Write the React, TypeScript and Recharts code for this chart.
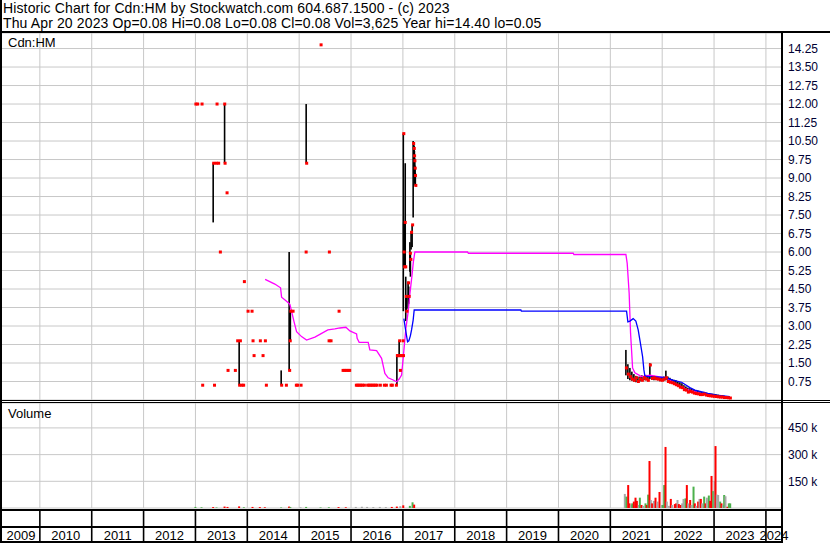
import React from 'react';
import { ComposedChart, Bar, Line, Scatter, XAxis, YAxis, CartesianGrid } from 'recharts';

const TITLE = 'Historic Chart for Cdn:HM by Stockwatch.com 604.687.1500 - (c) 2023';
const SUBTITLE = 'Thu Apr 20 2023 Op=0.08 Hi=0.08 Lo=0.08 Cl=0.08 Vol=3,625 Year hi=14.40 lo=0.05';
const SYMBOL = 'Cdn:HM';
const VOLUME_LABEL = 'Volume';

const X_DOMAIN: [number, number] = [2009.27, 2024.31];
const YEAR_LINES = [2010, 2011, 2012, 2013, 2014, 2015, 2016, 2017, 2018, 2019, 2020, 2021, 2022, 2023, 2024];
const YEAR_LABEL_POS = [2009.635, 2010.5, 2011.5, 2012.5, 2013.5, 2014.5, 2015.5, 2016.5, 2017.5, 2018.5, 2019.5, 2020.5, 2021.5, 2022.5, 2023.5, 2024.155];
const PRICE_TICKS = [0.75, 1.5, 2.25, 3, 3.75, 4.5, 5.25, 6, 6.75, 7.5, 8.25, 9, 9.75, 10.5, 11.25, 12, 12.75, 13.5, 14.25];
const PRICE_DOMAIN: [number, number] = [0, 14.88];
const VOLUME_TICKS = [150, 300, 450]; // thousands
const VOLUME_DOMAIN: [number, number] = [0, 590];

// [decimal year, high, low, close]
const OHLC: [number, number, number, number][] = [
  [2012.999, 12, 12, 12], [2013.033, 12, 12, 12], [2013.118, 12, 12, 12], [2013.130, 0.6, 0.6, 0.6],
  [2013.342, 9.6, 7.2, 9.6], [2013.358, 0.6, 0.6, 0.6], [2013.394, 9.6, 9.6, 9.6], [2013.407, 12, 12, 12],
  [2013.438, 9.6, 9.6, 9.6], [2013.471, 6.0, 6.0, 6.0], [2013.555, 12, 12, 12], [2013.562, 12, 9.6, 9.6],
  [2013.600, 8.4, 8.4, 8.4], [2013.619, 1.2, 1.2, 1.2], [2013.760, 1.2, 1.2, 1.2], [2013.805, 2.4, 2.4, 2.4],
  [2013.843, 2.4, 0.6, 0.6], [2013.857, 2.4, 2.4, 2.4], [2013.886, 0.6, 0.6, 0.6], [2013.920, 0.6, 0.6, 0.6],
  [2013.934, 4.8, 4.8, 4.8], [2014.005, 3.6, 3.6, 3.6], [2014.082, 3.6, 3.6, 3.6], [2014.101, 2.4, 2.4, 2.4],
  [2014.121, 1.8, 1.8, 1.8], [2014.242, 2.4, 2.4, 2.4], [2014.294, 1.8, 1.8, 1.8], [2014.339, 2.4, 2.4, 2.4],
  [2014.358, 0.6, 0.6, 0.6], [2014.653, 1.2, 0.6, 0.6], [2014.744, 0.6, 0.6, 0.6], [2014.807, 6.0, 1.2, 1.2],
  [2014.818, 3.6, 2.4, 2.4], [2014.830, 3.6, 2.4, 3.6], [2014.873, 3.6, 3.6, 3.6], [2014.936, 0.6, 0.6, 0.6],
  [2014.961, 0.6, 0.6, 0.6], [2015.027, 0.6, 0.6, 0.6], [2015.125, 6.0, 6.0, 6.0], [2015.135, 12, 9.6, 9.6],
  [2015.413, 14.4, 14.4, 14.4], [2015.567, 2.4, 2.4, 2.4], [2015.573, 6.0, 6.0, 6.0], [2015.605, 2.4, 2.4, 2.4],
  [2015.760, 3.6, 3.6, 3.6], [2015.837, 1.2, 1.2, 1.2], [2015.870, 1.2, 1.2, 1.2], [2015.900, 1.2, 1.2, 1.2],
  [2015.935, 1.2, 1.2, 1.2], [2015.964, 1.2, 1.2, 1.2], [2016.093, 0.6, 0.6, 0.6], [2016.120, 0.6, 0.6, 0.6],
  [2016.150, 0.6, 0.6, 0.6], [2016.180, 0.6, 0.6, 0.6], [2016.210, 0.6, 0.6, 0.6], [2016.248, 0.6, 0.6, 0.6],
  [2016.311, 0.6, 0.6, 0.6], [2016.340, 0.6, 0.6, 0.6], [2016.370, 0.6, 0.6, 0.6], [2016.400, 0.6, 0.6, 0.6],
  [2016.430, 0.6, 0.6, 0.6], [2016.460, 0.6, 0.6, 0.6], [2016.493, 0.6, 0.6, 0.6], [2016.556, 0.6, 0.6, 0.6],
  [2016.633, 0.6, 0.6, 0.6], [2016.672, 0.6, 0.6, 0.6], [2016.762, 0.6, 0.6, 0.6], [2016.787, 0.6, 0.6, 0.6],
  [2016.865, 0.6, 0.6, 0.6], [2016.884, 1.8, 0.6, 1.8], [2016.897, 1.8, 1.8, 1.8], [2016.922, 1.8, 1.8, 1.8],
  [2016.928, 2.4, 1.8, 2.4], [2016.942, 1.2, 1.2, 1.2], [2016.951, 1.8, 1.8, 1.8], [2016.980, 1.8, 1.8, 1.8],
  [2016.994, 2.4, 2.4, 2.4], [2017.002, 1.8, 1.8, 1.8], [2017.008, 10.8, 3.6, 10.8], [2017.015, 7.2, 5.4, 6.0],
  [2017.025, 7.0, 5.4, 5.4], [2017.035, 7.2, 5.5, 7.2], [2017.045, 9.6, 5.4, 5.4], [2017.055, 5.0, 3.2, 4.2],
  [2017.068, 4.2, 3.6, 3.6], [2017.100, 4.8, 3.7, 4.75], [2017.112, 4.6, 3.9, 4.2], [2017.135, 6.4, 5.2, 5.95],
  [2017.145, 5.9, 5.0, 5.7], [2017.158, 6.8, 6.1, 6.8], [2017.178, 7.1, 6.2, 7.1], [2017.198, 10.5, 7.4, 10.4],
  [2017.210, 10.4, 9.6, 10.2], [2017.216, 10.3, 9.2, 9.9], [2017.222, 10.1, 9.0, 9.7], [2017.228, 9.8, 8.8, 9.4],
  [2017.234, 9.5, 8.7, 9.1], [2017.240, 9.2, 8.7, 8.7],
  [2021.300, 2.03, 1.0, 1.3], [2021.338, 1.45, 0.85, 1.05], [2021.377, 1.3, 0.8, 0.95], [2021.415, 1.15, 0.78, 0.85],
  [2021.454, 1.05, 0.75, 0.8], [2021.492, 0.98, 0.72, 0.9], [2021.531, 0.95, 0.72, 0.75], [2021.570, 0.95, 0.75, 0.85],
  [2021.608, 1.0, 0.78, 0.8], [2021.647, 0.97, 0.8, 0.9], [2021.685, 1.02, 0.8, 0.85], [2021.724, 0.96, 0.76, 0.8],
  [2021.762, 1.49, 0.85, 1.42], [2021.801, 1.0, 0.82, 0.88], [2021.840, 0.98, 0.8, 0.9], [2021.878, 0.95, 0.82, 0.86],
  [2021.917, 0.93, 0.8, 0.85], [2021.955, 0.9, 0.76, 0.82], [2021.994, 0.92, 0.78, 0.8], [2022.032, 0.95, 0.78, 0.85],
  [2022.071, 1.19, 0.8, 0.9], [2022.110, 0.95, 0.7, 0.75], [2022.148, 0.9, 0.7, 0.72], [2022.187, 0.85, 0.66, 0.7],
  [2022.225, 0.82, 0.62, 0.66], [2022.264, 0.8, 0.6, 0.62], [2022.302, 0.75, 0.55, 0.58], [2022.341, 0.72, 0.5, 0.52],
  [2022.380, 0.68, 0.45, 0.5], [2022.418, 0.6, 0.4, 0.42], [2022.457, 0.55, 0.38, 0.4], [2022.495, 0.5, 0.3, 0.32],
  [2022.534, 0.48, 0.3, 0.35], [2022.572, 0.45, 0.3, 0.32], [2022.611, 0.42, 0.25, 0.28], [2022.650, 0.4, 0.24, 0.26],
  [2022.688, 0.38, 0.22, 0.25], [2022.727, 0.35, 0.2, 0.22], [2022.765, 0.33, 0.2, 0.22], [2022.804, 0.33, 0.2, 0.24],
  [2022.842, 0.3, 0.18, 0.2], [2022.881, 0.28, 0.16, 0.18], [2022.919, 0.27, 0.15, 0.17], [2022.958, 0.26, 0.14, 0.16],
  [2022.996, 0.25, 0.13, 0.15], [2023.035, 0.24, 0.12, 0.14], [2023.074, 0.22, 0.12, 0.13], [2023.112, 0.2, 0.1, 0.12],
  [2023.151, 0.2, 0.1, 0.12], [2023.189, 0.18, 0.09, 0.1], [2023.228, 0.16, 0.08, 0.1], [2023.266, 0.15, 0.07, 0.09],
  [2023.305, 0.08, 0.08, 0.08],
];

// fast moving average (magenta)
const MA_FAST: [number, number][] = [
  [2014.344, 4.89], [2014.531, 4.7], [2014.641, 4.55], [2014.661, 4.17], [2014.757, 4.0], [2014.821, 3.88],
  [2014.853, 3.6], [2014.898, 3.2], [2014.950, 2.77], [2015.046, 2.57], [2015.143, 2.43], [2015.303, 2.55],
  [2015.399, 2.66], [2015.553, 2.84], [2015.688, 2.88], [2015.785, 2.92], [2015.901, 2.95], [2015.978, 2.8],
  [2016.107, 2.68], [2016.118, 2.5], [2016.157, 2.34], [2016.331, 2.34], [2016.363, 2.03], [2016.493, 2.0],
  [2016.589, 1.69], [2016.653, 1.08], [2016.716, 0.9], [2016.813, 0.81], [2016.878, 0.74], [2016.928, 0.85],
  [2016.975, 1.01], [2017.005, 1.69], [2017.058, 2.9], [2017.102, 3.58], [2017.135, 4.3], [2017.173, 5.0],
  [2017.202, 5.6], [2017.231, 6.0], [2018.247, 6.0], [2018.263, 5.95], [2020.284, 5.95], [2020.297, 5.9],
  [2021.300, 5.9], [2021.325, 5.54], [2021.363, 4.32], [2021.390, 2.7], [2021.410, 2.0], [2021.429, 1.3],
  [2021.473, 1.1], [2021.602, 0.95], [2021.762, 1.01], [2021.923, 0.95], [2022.085, 0.88], [2022.277, 0.64],
  [2022.470, 0.43], [2022.727, 0.28], [2023.049, 0.16], [2023.305, 0.08],
];

// slow moving average (blue)
const MA_SLOW: [number, number][] = [
  [2017.019, 3.3], [2017.048, 2.9], [2017.071, 2.6], [2017.090, 2.36], [2017.115, 2.4], [2017.144, 2.6],
  [2017.167, 2.84], [2017.198, 3.24], [2017.218, 3.65], [2019.275, 3.65], [2019.285, 3.6], [2021.313, 3.6],
  [2021.338, 3.17], [2021.377, 3.2], [2021.440, 3.3], [2021.492, 3.2], [2021.537, 2.84], [2021.570, 2.43],
  [2021.622, 1.76], [2021.647, 1.22], [2021.666, 0.97], [2021.762, 0.95], [2022.052, 0.92], [2022.206, 0.81],
  [2022.374, 0.72], [2022.534, 0.5], [2022.630, 0.4], [2022.881, 0.27], [2023.049, 0.2], [2023.305, 0.14],
];

// [decimal year, volume (thousands), r = down / g = up / n = unchanged]
const VOLUME: [number, number, string][] = [
  [2013.000, 6, 'g'], [2013.118, 4, 'g'], [2013.342, 5, 'r'], [2013.407, 3, 'g'], [2013.562, 8, 'r'],
  [2013.619, 6, 'r'], [2013.843, 9, 'r'], [2013.934, 4, 'g'], [2014.101, 6, 'r'], [2014.242, 5, 'r'],
  [2014.339, 4, 'r'], [2014.653, 3, 'g'], [2014.807, 8, 'r'], [2014.830, 5, 'g'], [2015.027, 4, 'n'],
  [2015.135, 6, 'g'], [2015.413, 3, 'g'], [2015.573, 4, 'g'], [2015.760, 5, 'r'], [2015.900, 4, 'r'],
  [2016.093, 6, 'n'], [2016.210, 7, 'n'], [2016.311, 6, 'n'], [2016.430, 5, 'n'], [2016.556, 6, 'n'],
  [2016.672, 5, 'n'], [2016.787, 6, 'r'], [2016.884, 8, 'r'], [2016.951, 10, 'n'], [2017.008, 15, 'r'],
  [2017.135, 12, 'g'], [2017.187, 32, 'g'], [2017.218, 19, 'r'],
  [2021.280, 79, 'n'], [2021.312, 64, 'g'], [2021.345, 129, 'r'], [2021.370, 26, 'r'], [2021.396, 17, 'n'],
  [2021.422, 26, 'g'], [2021.454, 36, 'r'], [2021.486, 58, 'r'], [2021.512, 40, 'r'], [2021.550, 17, 'n'],
  [2021.570, 58, 'g'], [2021.602, 17, 'r'], [2021.634, 12, 'n'], [2021.679, 26, 'g'], [2021.705, 17, 'r'],
  [2021.730, 75, 'g'], [2021.756, 264, 'r'], [2021.782, 45, 'n'], [2021.807, 26, 'r'], [2021.840, 40, 'n'],
  [2021.872, 58, 'r'], [2021.910, 36, 'n'], [2021.949, 90, 'r'], [2021.988, 17, 'n'], [2022.013, 17, 'g'],
  [2022.039, 129, 'g'], [2022.065, 343, 'r'], [2022.090, 36, 'n'], [2022.129, 12, 'n'], [2022.167, 51, 'r'],
  [2022.193, 17, 'n'], [2022.245, 22, 'r'], [2022.270, 26, 'r'], [2022.296, 45, 'n'], [2022.322, 22, 'r'],
  [2022.360, 17, 'r'], [2022.386, 26, 'n'], [2022.412, 51, 'n'], [2022.450, 54, 'g'], [2022.476, 129, 'r'],
  [2022.502, 26, 'n'], [2022.540, 45, 'r'], [2022.566, 17, 'n'], [2022.605, 120, 'g'], [2022.630, 26, 'r'],
  [2022.656, 12, 'n'], [2022.694, 36, 'r'], [2022.720, 51, 'n'], [2022.746, 51, 'r'], [2022.771, 26, 'n'],
  [2022.810, 64, 'g'], [2022.836, 26, 'r'], [2022.862, 58, 'n'], [2022.900, 70, 'g'], [2022.926, 40, 'r'],
  [2022.952, 180, 'r'], [2022.985, 95, 'g'], [2023.012, 152, 'n'], [2023.029, 348, 'r'], [2023.054, 75, 'n'],
  [2023.080, 73, 'n'], [2023.119, 36, 'g'], [2023.144, 26, 'r'], [2023.170, 17, 'n'], [2023.196, 73, 'g'],
  [2023.221, 66, 'n'], [2023.260, 7, 'r'], [2023.286, 26, 'g'], [2023.312, 26, 'g'],
];

const VOL_COLORS: Record<string, string> = { r: '#ff0000', g: '#4cb04c', n: '#a8a8a8' };

const priceRows = OHLC.map(([t, hi, lo, cl]) => ({ t, range: [lo, hi], cl }));
const fastRows = MA_FAST.map(([t, v]) => ({ t, v }));
const slowRows = MA_SLOW.map(([t, v]) => ({ t, v }));
const volRows = VOLUME.map(([t, v, c]) => ({ t, v, c }));

const FONT = '"Liberation Sans", Arial, sans-serif';
const AXIS_TEXT = { fontSize: 12, fill: '#000033', fontFamily: FONT };

const CloseMark = (p: any) =>
  p.cx == null || p.cy == null ? null : (
    <rect x={p.cx - 1} y={p.cy - 1.5} width={3} height={3} fill="#ff0000" />
  );

// hi-lo bar: library supplies y/height from the [lo, hi] range; keep a fixed stroke width centred on the bar slot
const RangeBar = (p: any) => {
  const { x, y, width, height } = p;
  if (![x, y, width, height].every((n) => typeof n === 'number' && isFinite(n))) return null;
  const cx = x + width / 2;
  const top = Math.min(y, y + height);
  const h = Math.abs(height);
  if (h < 0.5) return null;
  return <rect x={cx - 0.8} y={top} width={1.6} height={h} fill="#000" />;
};

const VolBar = (p: any) => {
  const { x, y, width, height, payload } = p;
  if (![x, y, width, height].every((n) => typeof n === 'number' && isFinite(n))) return null;
  const cx = x + width / 2;
  const top = Math.min(y, y + height);
  const h = Math.abs(height);
  return <rect x={cx - 1} y={top} width={2} height={h} fill={VOL_COLORS[payload?.c] || '#a8a8a8'} />;
};

const YearTick = (p: any) => {
  const v = p.payload?.value;
  if (v == null) return null;
  if (Number.isInteger(v)) {
    return <line x1={p.x} x2={p.x} y1={p.y + 2} y2={p.y + 35} stroke="#000" strokeWidth={1.6} />;
  }
  return (
    <text x={p.x} y={p.y + 31.5} textAnchor="middle" fontSize={13} fontFamily={FONT} fill="#000">
      {Math.floor(v)}
    </text>
  );
};

const hLine = (top: number, left: number, width: number, h: number) => (
  <div style={{ position: 'absolute', top, left, width, height: h, background: '#000' }} />
);

const headerStyle: React.CSSProperties = {
  position: 'absolute', left: 3, fontSize: 14, lineHeight: '14px', height: 14,
  letterSpacing: '0.13px', whiteSpace: 'pre', color: '#000',
};

export default function App() {
  return (
    <div style={{ position: 'absolute', left: 0, top: 0, width: 830, height: 543, background: '#fff', overflow: 'hidden', fontFamily: FONT }}>
      <div style={{ ...headerStyle, top: 1 }}>{TITLE}</div>
      <div style={{ ...headerStyle, top: 16 }}>{SUBTITLE}</div>

      <div style={{ position: 'absolute', left: 0, top: 0 }}>
        <ComposedChart width={830} height={400} data={priceRows} margin={{ top: 33, right: 0, left: 2, bottom: 0 }}>
          <CartesianGrid stroke="#c8c8c8" verticalValues={YEAR_LINES} />
          <XAxis dataKey="t" type="number" domain={X_DOMAIN} allowDataOverflow ticks={YEAR_LINES} hide />
          <YAxis
            orientation="right"
            width={48}
            domain={PRICE_DOMAIN}
            allowDataOverflow
            ticks={PRICE_TICKS}
            interval={0}
            tickFormatter={(v: number) => v.toFixed(2)}
            axisLine={false}
            tickLine={false}
            tickSize={0}
            tickMargin={6}
            tick={AXIS_TEXT}
          />
          <Line data={fastRows} dataKey="v" type="linear" stroke="#ff00ff" strokeWidth={1.3} dot={false} isAnimationActive={false} />
          <Line data={slowRows} dataKey="v" type="linear" stroke="#0000ff" strokeWidth={1.3} dot={false} isAnimationActive={false} />
          <Bar dataKey="range" fill="#000" barSize={1.6} shape={RangeBar} isAnimationActive={false} />
          <Scatter dataKey="cl" shape={CloseMark} isAnimationActive={false} />
        </ComposedChart>
      </div>

      <div style={{ position: 'absolute', left: 0, top: 403 }}>
        <ComposedChart width={830} height={140} data={volRows} margin={{ top: 0, right: 0, left: 2, bottom: 0 }}>
          <CartesianGrid stroke="#c8c8c8" verticalValues={YEAR_LINES} />
          <XAxis
            dataKey="t"
            type="number"
            domain={X_DOMAIN}
            allowDataOverflow
            ticks={[...YEAR_LINES, ...YEAR_LABEL_POS]}
            interval={0}
            height={35}
            axisLine={false}
            tickLine={false}
            tickSize={0}
            tickMargin={0}
            tick={<YearTick />}
          />
          <YAxis
            orientation="right"
            width={48}
            domain={VOLUME_DOMAIN}
            allowDataOverflow
            ticks={VOLUME_TICKS}
            interval={0}
            tickFormatter={(v: number) => `${v} k`}
            axisLine={false}
            tickLine={false}
            tickSize={0}
            tickMargin={6}
            tick={AXIS_TEXT}
          />
          <Bar dataKey="v" barSize={2} shape={VolBar} isAnimationActive={false} />
        </ComposedChart>
      </div>

      <div style={{ position: 'absolute', left: 8, top: 36, fontSize: 13, lineHeight: '14px' }}>{SYMBOL}</div>
      <div style={{ position: 'absolute', left: 8, top: 407, fontSize: 13, lineHeight: '14px' }}>{VOLUME_LABEL}</div>

      {hLine(31, 0, 830, 2)}
      {hLine(400, 0, 830, 1)}
      {hLine(402, 0, 830, 1)}
      {hLine(509, 0, 782, 2)}
      {hLine(526, 0, 782, 2)}
      {hLine(541, 0, 782, 2)}
      <div style={{ position: 'absolute', left: 0, top: 0, width: 2, height: 543, background: '#000' }} />
      <div style={{ position: 'absolute', left: 781, top: 32, width: 2, height: 511, background: '#000' }} />
    </div>
  );
}
